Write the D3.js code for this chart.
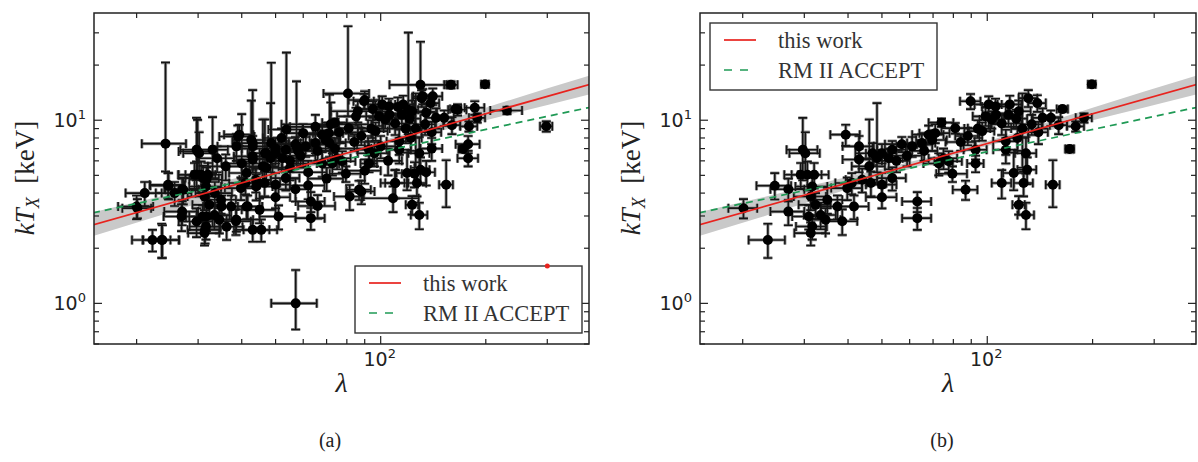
<!DOCTYPE html>
<html>
<head>
<meta charset="utf-8">
<script src="https://cdn.jsdelivr.net/npm/d3@7/dist/d3.min.js"></script>
<style>
	body { margin: 0; background: #fff; }
	svg { display: block; }
</style>
</head>
<body>
<svg id="fig" width="1198" height="462"></svg>
<script>
(function () {

	'use strict';

	// clusters shown in both panels: [lambda, kT, dLambda, dkT low, dkT high]
	var sharedPts = [
		[20.1, 3.31, 1.9, 0.4, 0.4], [23.6, 2.22, 2.8, 0.45, 0.5], [24.7, 4.39, 2.8, 0.7, 0.75],
		[27.0, 4.2, 3.0, 0.6, 0.6], [27.0, 3.17, 3.0, 0.5, 0.5], [29.7, 6.9, 3.0, 2.2, 3.4],
		[30.2, 6.6, 3.0, 1.5, 2.0], [29.3, 5.04, 3.0, 0.8, 0.8], [30.6, 5.04, 3.0, 0.9, 0.9],
		[32.0, 5.04, 3.2, 0.8, 0.8], [31.6, 4.35, 3.3, 0.7, 0.7], [31.3, 3.83, 3.3, 0.6, 0.6],
		[32.3, 3.45, 3.4, 0.55, 0.55], [30.9, 2.98, 3.2, 0.45, 0.45], [31.6, 2.63, 3.2, 0.4, 0.4],
		[31.3, 2.42, 3.2, 0.35, 0.35], [33.4, 3.04, 3.5, 0.5, 0.5], [34.9, 3.68, 3.6, 0.6, 0.6],
		[34.5, 2.86, 3.6, 0.45, 0.45], [37.3, 3.38, 3.8, 0.5, 0.5], [38.5, 2.81, 4.0, 0.45, 0.45],
		[41.6, 3.38, 4.2, 0.5, 0.5], [39.4, 8.34, 3.8, 1.1, 1.1], [43.0, 7.2, 4.4, 1.0, 1.0],
		[43.0, 6.1, 4.4, 0.9, 0.9], [39.8, 4.26, 4.0, 0.6, 0.6], [41.0, 4.54, 4.2, 0.6, 0.6],
		[43.9, 4.73, 4.5, 0.7, 0.7], [89.6, 12.7, 6, 1.2, 1.2], [101, 12.2, 9, 1.3, 1.3],
		[105.6, 11.9, 9, 1.2, 1.2], [98.9, 10.5, 8, 1.2, 1.2], [103, 10.1, 8, 1.1, 1.1],
		[96.7, 8.72, 8, 1.0, 1.0], [115, 10.7, 10, 1.5, 1.5], [123, 11.2, 10, 1.6, 1.6],
		[131, 13.2, 8, 1.4, 1.4], [139, 12.4, 8, 1.3, 1.3], [126, 9.0, 9, 3.5, 5.0],
		[122, 8.0, 9, 1.2, 1.2], [113, 7.67, 9, 1.2, 1.2], [113, 6.9, 9, 1.1, 1.1],
		[129, 6.6, 9, 1.5, 1.5], [130, 5.37, 8, 0.9, 0.9], [119, 5.15, 8, 1.0, 1.5],
		[127, 4.54, 8, 0.7, 0.7], [110, 4.54, 7, 0.8, 0.8], [123, 3.45, 5, 0.4, 0.4],
		[129, 3.04, 7, 0.5, 0.5], [154, 4.45, 7, 1.1, 1.6], [152, 10.3, 10, 1.0, 1.0],
		[164, 11.5, 6, 0.4, 0.4], [179, 9.26, 10, 0.6, 0.6], [189, 10.3, 10, 0.6, 0.6],
		[199, 15.7, 5, 0.5, 0.5], [172, 6.96, 5, 0.3, 0.3], [81, 9.05, 7, 0.6, 0.6],
		[74, 9.7, 6, 0.5, 0.5], [71, 8.5, 7, 1.0, 1.0], [68, 8.34, 7, 1.0, 1.0],
		[69.6, 7.8, 7, 1.0, 1.0], [65, 7.5, 6, 0.9, 0.9], [61, 7.2, 6, 0.9, 0.9],
		[57, 7.4, 6, 0.7, 0.7], [53.5, 6.9, 5, 0.8, 0.8], [50, 6.6, 5, 0.8, 0.8],
		[47, 6.6, 5, 0.9, 0.9], [48.4, 6.2, 5, 1.0, 6.2], [52.3, 6.2, 5, 0.8, 0.8],
		[75, 6.2, 7, 0.8, 0.8], [77.6, 5.97, 7, 0.8, 0.8], [72.7, 5.8, 7, 0.8, 0.8],
		[92.6, 5.8, 5, 0.6, 0.6], [92.6, 6.9, 7, 0.8, 0.8], [79.5, 5.1, 8, 0.5, 0.5],
		[53.5, 4.83, 5, 0.7, 0.7], [50, 4.45, 5, 0.7, 0.7], [50, 3.8, 5, 0.5, 0.5],
		[46.5, 4.54, 5, 0.7, 0.7], [86.7, 4.17, 7, 0.5, 0.5], [63.1, 3.6, 6, 0.45, 0.45],
		[63.1, 2.92, 6, 0.4, 0.4], [46, 5.6, 5, 1.2, 4.5], [55, 6.0, 5, 0.8, 0.8],
		[59, 6.4, 6, 0.8, 0.8], [66, 6.8, 6, 0.8, 0.8], [84, 7.6, 8, 0.8, 0.8],
		[88, 8.2, 7, 0.9, 0.9], [94, 9.0, 8, 1.0, 1.0], [106, 10.7, 9, 1.2, 1.2],
		[110, 9.6, 9, 1.3, 1.3], [116, 12.2, 9, 1.4, 1.4], [121, 10.2, 9, 1.2, 1.2],
		[134, 9.5, 9, 1.2, 1.2], [140, 8.6, 9, 1.2, 1.2], [144, 10.3, 9, 1.3, 1.3],
		[160, 9.4, 9, 1.0, 1.0]
	];

	// clusters only in panel (a)
	var onlyA = [
		[24.2, 7.45, 3.5, 2.2, 13.2], [21.1, 4.0, 2.5, 0.6, 0.6], [20.0, 3.38, 2.3, 0.5, 0.5],
		[22.2, 2.22, 2.8, 0.3, 0.3], [23.7, 2.22, 2.8, 0.45, 0.45], [24.6, 4.44, 2.8, 0.7, 0.7],
		[25.7, 4.0, 3.0, 0.6, 0.6], [27.2, 4.17, 3.0, 0.7, 0.7], [26.9, 2.98, 3.0, 0.5, 0.5],
		[29.9, 6.75, 3.5, 1.5, 3.3], [29.7, 5.04, 3.3, 0.9, 0.9], [31.0, 4.83, 3.4, 0.8, 0.8],
		[31.7, 4.73, 3.4, 0.8, 0.8], [31.7, 2.98, 3.4, 0.5, 0.5], [29.7, 2.8, 3.3, 0.5, 0.5],
		[31.4, 2.52, 3.4, 0.4, 0.4], [39.0, 8.15, 4.5, 1.2, 1.2], [38.6, 7.2, 4.5, 1.2, 1.2],
		[42.6, 7.8, 5, 1.5, 5.0], [43.0, 6.35, 5, 1.0, 1.0], [46.6, 6.6, 5, 1.0, 3.5],
		[41.3, 5.15, 4.5, 0.8, 0.8], [44.0, 4.35, 5, 0.7, 0.7], [45.0, 3.24, 5, 0.5, 0.5],
		[38.6, 2.86, 4.5, 0.4, 0.4], [41.3, 3.38, 4.5, 0.5, 0.5], [35.0, 3.38, 4, 0.5, 0.5],
		[36.2, 2.62, 4, 0.4, 0.4], [43.0, 2.52, 5, 0.35, 0.35], [45.5, 2.52, 5, 0.35, 0.35],
		[33.5, 4.0, 4, 0.6, 0.6], [80.6, 14.0, 12, 3.5, 18.6], [90, 12.9, 9, 1.5, 1.5],
		[130, 15.6, 24, 2.5, 11.2], [120, 11.4, 8, 3.0, 18.7], [53.7, 8.9, 6, 2.0, 14.5],
		[48.6, 7.5, 6, 1.8, 13.1], [57.4, 7.2, 6, 1.5, 9.1], [43.0, 7.5, 5, 1.6, 7.1],
		[71.4, 7.5, 8, 1.2, 6.3], [110, 4.54, 10, 0.8, 0.8], [108.5, 3.75, 20, 0.6, 0.6],
		[81.5, 3.83, 8, 0.6, 0.6], [88, 4.08, 8, 0.6, 0.6], [51, 2.98, 6, 0.45, 0.45],
		[159, 15.6, 7, 0.7, 0.7], [230, 11.3, 24, 0.5, 0.5], [298, 9.26, 12, 0.6, 0.6],
		[186, 11.7, 12, 1.0, 1.0], [166, 11.4, 10, 0.8, 0.8], [178, 7.4, 14, 0.8, 0.8],
		[178, 6.2, 12, 0.6, 0.6], [135, 11.0, 10, 1.2, 1.2], [141, 13.5, 9, 1.4, 1.4],
		[132, 13.5, 8, 1.3, 1.3], [57.1, 1.0, 8.5, 0.28, 0.52], [60, 8.5, 7, 1.0, 1.0],
		[65, 9.2, 10, 1.5, 1.5], [72, 9.5, 20, 1.5, 3.0], [76, 8.6, 10, 1.0, 1.0],
		[85, 10.5, 10, 1.2, 1.2], [95, 11.5, 10, 1.2, 1.2], [112, 11.8, 12, 1.5, 1.5],
		[118, 9.0, 12, 1.5, 1.5], [55, 5.5, 6, 0.8, 0.8], [62, 5.2, 8, 0.8, 0.8],
		[68, 5.8, 8, 0.9, 0.9], [100, 7.2, 10, 1.0, 1.0], [105, 6.0, 10, 1.0, 1.0],
		[58, 6.8, 6, 1.0, 1.0], [36, 5.6, 4, 0.9, 0.9], [34, 6.2, 4, 1.0, 1.0],
		[52, 8.0, 6, 1.0, 1.0], [62, 4.4, 7, 0.7, 0.7], [70, 4.8, 8, 0.7, 0.7],
		[66, 3.4, 8, 0.5, 0.5], [90, 5.3, 10, 0.8, 0.8], [125, 5.1, 10, 0.8, 0.8],
		[135, 5.2, 8, 0.8, 0.8], [96, 6.6, 10, 1.0, 1.0], [140, 7.0, 10, 1.0, 1.0],
		[57, 4.2, 6, 0.6, 0.6], [74, 7.0, 20, 1.0, 1.0], [86, 11.2, 14, 1.5, 1.5],
		[33, 6.9, 3.5, 1.8, 3.5], [40, 5.8, 5, 1.0, 5.0], [50, 7.0, 10, 1.0, 1.0],
		[47, 5.5, 5, 0.8, 0.8]
	];

	var strayPoint = [300, 1.6];

	var fitLam = [15, 400];
	var fitThisWork = [2.68, 15.76];
	var fitRM = [3.12, 11.79];

	var bandLam = [15, 25, 40, 60, 90, 130, 200, 400];
	var bandLo = [2.33, 3.14, 4.21, 5.41, 6.85, 8.23, 10.0, 13.9];
	var bandHi = [3.14, 3.96, 4.91, 5.92, 7.24, 8.97, 11.7, 17.6];

	var xMajor = [100];
	var xMinor = [20, 30, 40, 50, 60, 70, 80, 90, 200, 300];
	var yMajor = [1, 10];
	var yMinor = [0.6, 0.7, 0.8, 0.9, 2, 3, 4, 5, 6, 7, 8, 9, 20, 30];

	var legendLabels = ['this work', 'RM II ACCEPT'];
	var panelNames = ['(a)', '(b)'];

	var svg = d3.select('#fig');
	var top = 13, bottom = 344;
	var serif = 'Liberation Serif, DejaVu Serif, serif';

	var panels = [
		{ x0: 94, x1: 589, pts: sharedPts.concat(onlyA), legend: [355, 266], name: 330, stray: true },
		{ x0: 700, x1: 1196, pts: sharedPts, legend: [710, 23], name: 942, stray: false }
	];

	panels.forEach(function (p, i) {
		drawPanel(p, i);
	});

	function drawPanel(p, i) {
		var x = d3.scaleLog().domain([15.1, 395]).range([p.x0, p.x1]);
		var y = d3.scaleLog().domain([0.6, 38.5]).range([bottom, top]);
		var g = svg.append('g');

		g.append('clipPath').attr('id', 'clip' + i)
			.append('rect')
			.attr('x', p.x0).attr('y', top)
			.attr('width', p.x1 - p.x0).attr('height', bottom - top);

		var plot = g.append('g').attr('clip-path', 'url(#clip' + i + ')');

		// confidence band
		var band = bandLam.map(function (l, k) { return [l, bandLo[k], bandHi[k]]; });
		plot.append('path')
			.datum(band)
			.attr('fill', '#c9c9c9')
			.attr('d', d3.area()
				.curve(d3.curveMonotoneX)
				.x(function (d) { return x(d[0]); })
				.y0(function (d) { return y(d[1]); })
				.y1(function (d) { return y(d[2]); }));

		// error bars, soft grey halo first then the dark stroke
		var cap = 4.5;
		var paths = p.pts.map(function (d) {
			var cx = x(d[0]), cy = y(d[1]);
			var xl = x(d[0] - d[2]), xr = x(d[0] + d[2]);
			var yl = y(d[1] - d[3]), yh = y(d[1] + d[4]);
			return 'M' + xl + ',' + cy + 'H' + xr +
				'M' + xl + ',' + (cy - cap) + 'V' + (cy + cap) +
				'M' + xr + ',' + (cy - cap) + 'V' + (cy + cap) +
				'M' + cx + ',' + yl + 'V' + yh +
				'M' + (cx - cap) + ',' + yl + 'H' + (cx + cap) +
				'M' + (cx - cap) + ',' + yh + 'H' + (cx + cap);
		});

		plot.append('g').selectAll('path')
			.data(paths)
			.enter().append('path')
			.attr('d', function (d) { return d; })
			.attr('stroke', '#9a9a9a')
			.attr('stroke-width', 3.2)
			.attr('fill', 'none');

		plot.append('g').selectAll('path')
			.data(paths)
			.enter().append('path')
			.attr('d', function (d) { return d; })
			.attr('stroke', '#151515')
			.attr('stroke-width', 1.6)
			.attr('fill', 'none');

		plot.append('g').selectAll('circle')
			.data(p.pts)
			.enter().append('circle')
			.attr('cx', function (d) { return x(d[0]); })
			.attr('cy', function (d) { return y(d[1]); })
			.attr('r', 5)
			.attr('fill', '#000');

		// fits
		var line = d3.line()
			.x(function (d) { return x(d[0]); })
			.y(function (d) { return y(d[1]); });

		plot.append('path')
			.datum(fitLam.map(function (l, k) { return [l, fitRM[k]]; }))
			.attr('d', line)
			.attr('stroke', '#1f9a55')
			.attr('stroke-width', 1.7)
			.attr('stroke-dasharray', '7,5')
			.attr('fill', 'none');

		plot.append('path')
			.datum(fitLam.map(function (l, k) { return [l, fitThisWork[k]]; }))
			.attr('d', line)
			.attr('stroke', '#e8231e')
			.attr('stroke-width', 1.7)
			.attr('fill', 'none');

		// frame and ticks
		g.append('rect')
			.attr('x', p.x0).attr('y', top)
			.attr('width', p.x1 - p.x0).attr('height', bottom - top)
			.attr('fill', 'none')
			.attr('stroke', '#222')
			.attr('stroke-width', 1.5);

		var ticks = g.append('g').attr('stroke', '#222').attr('stroke-width', 1.2);
		function xTick(v, len) {
			ticks.append('line').attr('x1', x(v)).attr('x2', x(v)).attr('y1', bottom).attr('y2', bottom - len);
			ticks.append('line').attr('x1', x(v)).attr('x2', x(v)).attr('y1', top).attr('y2', top + len);
		}
		function yTick(v, len) {
			ticks.append('line').attr('y1', y(v)).attr('y2', y(v)).attr('x1', p.x0).attr('x2', p.x0 + len);
			ticks.append('line').attr('y1', y(v)).attr('y2', y(v)).attr('x1', p.x1).attr('x2', p.x1 - len);
		}
		xMajor.forEach(function (v) { xTick(v, 8); });
		xMinor.forEach(function (v) { xTick(v, 5); });
		yMajor.forEach(function (v) { yTick(v, 8); });
		yMinor.forEach(function (v) { yTick(v, 5); });

		var lab = g.append('g')
			.attr('font-family', 'DejaVu Sans, sans-serif')
			.attr('fill', '#222');

		xMajor.forEach(function (v) {
			var t = lab.append('text')
				.attr('x', x(v) - 1)
				.attr('y', 366)
				.attr('text-anchor', 'middle')
				.attr('font-size', 19);
			t.append('tspan').text('10');
			t.append('tspan').attr('dy', -8).attr('font-size', 13).text(Math.round(Math.log10(v)));
		});

		yMajor.forEach(function (v) {
			var t = lab.append('text')
				.attr('x', p.x0 - 8)
				.attr('y', y(v) + 7)
				.attr('text-anchor', 'end')
				.attr('font-size', 19);
			t.append('tspan').text('10');
			t.append('tspan').attr('dy', -8).attr('font-size', 13).text(Math.round(Math.log10(v)));
		});

		// axis titles
		g.append('text')
			.attr('x', (p.x0 + p.x1) / 2)
			.attr('y', 392)
			.attr('text-anchor', 'middle')
			.attr('font-family', serif)
			.attr('font-style', 'italic')
			.attr('font-size', 28)
			.attr('fill', '#222')
			.text('λ');

		var yl = g.append('text')
			.attr('transform', 'translate(' + (p.x0 - 60) + ',' + 178 + ') rotate(-90)')
			.attr('text-anchor', 'middle')
			.attr('font-family', serif)
			.attr('font-size', 27)
			.attr('fill', '#222');
		yl.append('tspan').attr('font-style', 'italic').text('kT');
		yl.append('tspan').attr('font-style', 'italic').attr('font-size', 18).attr('dy', 5).text('X');
		yl.append('tspan').attr('dy', -5).text('\u00a0\u00a0[keV]');

		g.append('text')
			.attr('x', p.name)
			.attr('y', 447)
			.attr('text-anchor', 'middle')
			.attr('font-family', serif)
			.attr('font-size', 20)
			.attr('fill', '#222')
			.text(panelNames[i]);

		// legend
		var lx = p.legend[0], ly = p.legend[1];
		var leg = g.append('g');
		leg.append('rect')
			.attr('x', lx).attr('y', ly)
			.attr('width', 227).attr('height', 67)
			.attr('fill', '#fff')
			.attr('stroke', '#333')
			.attr('stroke-width', 1.4);
		leg.append('line')
			.attr('x1', lx + 14).attr('x2', lx + 46)
			.attr('y1', ly + 17).attr('y2', ly + 17)
			.attr('stroke', '#e8231e').attr('stroke-width', 1.7);
		leg.append('line')
			.attr('x1', lx + 14).attr('x2', lx + 46)
			.attr('y1', ly + 47).attr('y2', ly + 47)
			.attr('stroke', '#1f9a55').attr('stroke-width', 1.7)
			.attr('stroke-dasharray', '8,8');
		leg.selectAll('text.lg')
			.data(legendLabels)
			.enter().append('text')
			.attr('class', 'lg')
			.attr('x', lx + 68)
			.attr('y', function (d, k) { return ly + 25 + k * 30; })
			.attr('font-family', serif)
			.attr('font-size', 22.5)
			.attr('fill', '#333')
			.text(function (d) { return d; });

		if (p.stray) {
			g.append('circle')
				.attr('cx', x(strayPoint[0]))
				.attr('cy', y(strayPoint[1]))
				.attr('r', 2.5)
				.attr('fill', '#e8231e');
		}
	}

})();
</script>
</body>
</html>
